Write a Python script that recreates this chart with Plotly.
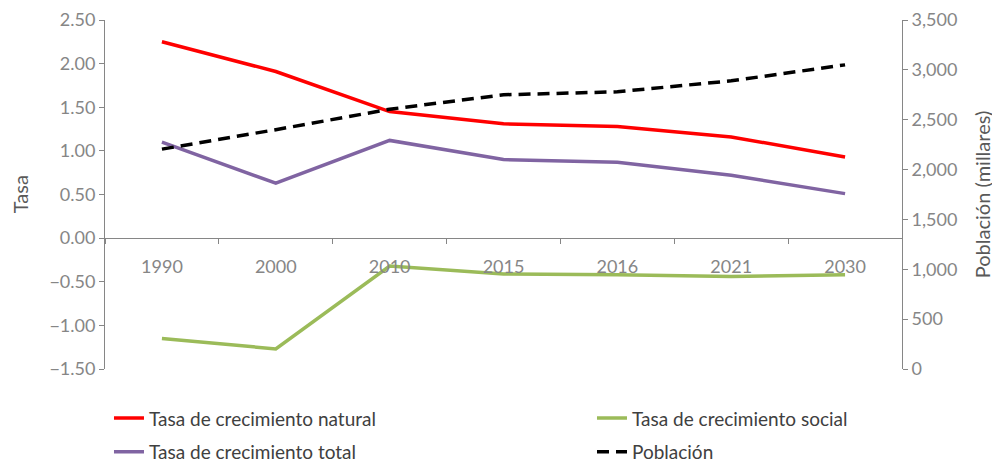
import plotly.graph_objects as go

years = ["1990", "2000", "2010", "2015", "2016", "2021", "2030"]
natural = [2.25, 1.91, 1.45, 1.31, 1.28, 1.16, 0.93]
social = [-1.15, -1.27, -0.32, -0.41, -0.42, -0.44, -0.42]
total = [1.10, 0.63, 1.12, 0.90, 0.87, 0.72, 0.51]
poblacion = [2205, 2400, 2605, 2750, 2780, 2890, 3050]

GRAY = "#868686"
FONT = "Lato"

fig = go.Figure()
fig.add_trace(go.Scatter(x=years, y=natural, mode="lines", name="Tasa de crecimiento natural",
                         line=dict(color="#FF0000", width=3.5), legend="legend", legendgroup="a"))
fig.add_trace(go.Scatter(x=years, y=social, mode="lines", name="Tasa de crecimiento social",
                         line=dict(color="#9BBB59", width=3.5), legend="legend2", legendgroup="b"))
fig.add_trace(go.Scatter(x=years, y=total, mode="lines", name="Tasa de crecimiento total",
                         line=dict(color="#8064A2", width=3.5), legend="legend", legendgroup="c"))
fig.add_trace(go.Scatter(x=years, y=poblacion, mode="lines", name="Población",
                         line=dict(color="#000000", width=3.5, dash="12px,7px"),
                         yaxis="y2", legend="legend2", legendgroup="d"))

legend_style = dict(orientation="v", xref="container", yref="container",
                    xanchor="left", yanchor="top", traceorder="grouped",
                    font=dict(family=FONT, size=19, color="#404040"),
                    bgcolor="rgba(0,0,0,0)", tracegroupgap=6, itemwidth=30)

axis_common = dict(showline=True, linecolor=GRAY, linewidth=1, ticks="outside", ticklen=5,
                   tickcolor=GRAY, showgrid=False, zeroline=False, automargin=False,
                   tickfont=dict(family=FONT, size=18, color=GRAY))

title_font = dict(family=FONT, size=20, color="#595959")

# page body has an 8px margin, so the figure is 8px smaller than the window
fig.update_layout(
    width=992, height=456,
    margin=dict(l=97, r=98, t=12, b=95, autoexpand=False),
    paper_bgcolor="white", plot_bgcolor="white",
    font=dict(family=FONT, size=16, color=GRAY),
    showlegend=True,
    xaxis=dict(type="category", anchor="free", position=0.375, range=[-0.5, 6.5],
               tickson="boundaries", ticklabelstandoff=12, tickangle=0, **axis_common),
    yaxis=dict(range=[-1.5, 2.5], dtick=0.5, tickformat=".2f", **axis_common),
    yaxis2=dict(range=[0, 3500], dtick=500, tickformat=",", overlaying="y", side="right",
                **axis_common),
    legend=dict(x=0.1018, y=0.142, **legend_style),
    legend2=dict(x=0.5887, y=0.142, **legend_style),
)

# axis titles
fig.add_annotation(text="Tasa", xref="paper", yref="paper", x=-0.107, y=0.5,
                   xanchor="center", yanchor="middle",
                   textangle=-90, showarrow=False, font=title_font)
fig.add_annotation(text="Población (millares)", xref="paper", yref="paper", x=1.1, y=0.5,
                   xanchor="center", yanchor="middle",
                   textangle=-90, showarrow=False, font=title_font)

fig.write_html("out.html")
